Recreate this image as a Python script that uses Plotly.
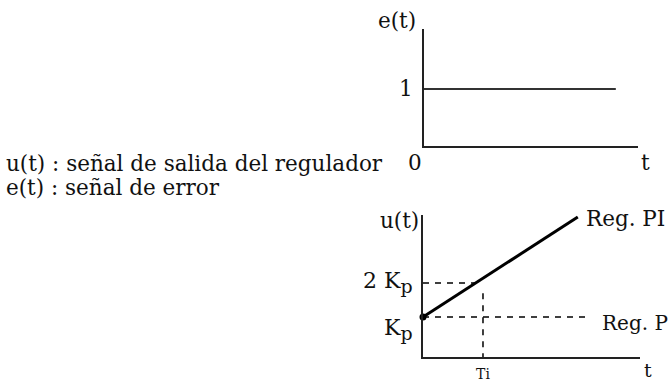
import plotly.graph_objects as go

# Error signal: unit step
e_t = [0, 3.2]
e_val = [1, 1]

# Controller outputs (Kp = 1, Ti = 1)
pi_t = [0, 2.58]
pi_u = [1, 3.94]
p_t = [0, 2.78]
p_u = [1, 1]
Kp = 1
Ti = 1
two_Kp = 2

e_ticks = [1]
e_ticklabels = ["1"]
SUB = "<sub><span style='font-size:19px'>p</span></sub>"
u_levels = [Kp, two_Kp]
u_labels = ["K" + SUB, "2 K" + SUB]
u_label_shift = [-12, 1]
t_ticks = [Ti]
t_ticklabels = ["Ti"]

legend_lines = ["u(t) : señal de salida del regulador", "e(t) : señal de error"]

W, H = 671, 381
FONT = "DejaVu Serif"
INK = "#111111"
FS = 21.5


def px(x):
    return x / W


def py(y):
    return 1 - y / H


fig = go.Figure()

# Top panel: e(t)
fig.add_trace(go.Scatter(x=e_t, y=e_val, mode="lines",
                         line=dict(color="#333333", width=2),
                         xaxis="x", yaxis="y", hoverinfo="skip"))

# Bottom panel: u(t)
DASH = dict(color="#000000", width=1.5, dash="6px,6px")
fig.add_trace(go.Scatter(x=p_t, y=p_u, mode="lines", line=DASH,
                         xaxis="x2", yaxis="y2", hoverinfo="skip"))
slope = (pi_u[1] - pi_u[0]) / (pi_t[1] - pi_t[0])
fig.add_trace(go.Scatter(x=[0, (two_Kp - pi_u[0]) / slope], y=[two_Kp, two_Kp],
                         mode="lines", line=DASH,
                         xaxis="x2", yaxis="y2", hoverinfo="skip"))
fig.add_trace(go.Scatter(x=[Ti, Ti], y=[1.7, -0.18], mode="lines", line=DASH,
                         xaxis="x2", yaxis="y2", hoverinfo="skip"))
fig.add_trace(go.Scatter(x=pi_t, y=pi_u, mode="lines",
                         line=dict(color="#000000", width=3),
                         xaxis="x2", yaxis="y2", hoverinfo="skip"))
fig.add_trace(go.Scatter(x=[0], y=[Kp], mode="markers",
                         marker=dict(color="#000000", size=7),
                         xaxis="x2", yaxis="y2", cliponaxis=False, hoverinfo="skip"))

axis_common = dict(showline=True, linecolor="#222222", linewidth=2,
                   showgrid=False, zeroline=False, ticks="")

fig.update_layout(
    width=W, height=H,
    margin=dict(l=0, r=0, t=0, b=0),
    paper_bgcolor="white", plot_bgcolor="white",
    showlegend=False,
    xaxis=dict(domain=[px(424), px(638)], range=[0, 3.57], anchor="y",
               showticklabels=False, **axis_common),
    yaxis=dict(domain=[py(146), py(29)], range=[0, 2.05], anchor="x",
               tickvals=e_ticks, ticktext=e_ticklabels, ticklabelstandoff=5,
               tickfont=dict(family=FONT, size=FS, color=INK), **axis_common),
    xaxis2=dict(domain=[px(423), px(640)], range=[0, 3.617], anchor="y2",
                tickvals=t_ticks, ticktext=t_ticklabels, ticklabelstandoff=3,
                tickfont=dict(family=FONT, size=14, color=INK), **axis_common),
    yaxis2=dict(domain=[py(357), py(215)], range=[-0.176, 4.0], anchor="x2",
                showticklabels=False, **axis_common),
)

# Level labels on the u(t) axis
for lvl, lab, dy in zip(u_levels, u_labels, u_label_shift):
    fig.add_annotation(xref="x2", yref="y2", x=0, y=lvl, text=lab,
                       xanchor="right", yanchor="middle", xshift=-8, yshift=dy,
                       showarrow=False, font=dict(family=FONT, size=22, color=INK))

annotations = [
    dict(x=px(4), y=py(163), text=legend_lines[0], xanchor="left", size=FS),
    dict(x=px(4), y=py(188), text=legend_lines[1], xanchor="left", size=FS),
    dict(x=px(418), y=py(20), text="e(t)", xanchor="right", size=FS),
    dict(x=px(415), y=py(162), text="0", xanchor="center", size=FS),
    dict(x=px(645), y=py(162), text="t", xanchor="center", size=FS),
    dict(x=px(421), y=py(220), text="u(t)", xanchor="right", size=FS),
    dict(x=px(584), y=py(218), text="Reg. PI", xanchor="left", size=FS),
    dict(x=px(600), y=py(323), text="Reg. P", xanchor="left", size=20),
    dict(x=px(648), y=py(370), text="t", xanchor="center", size=19),
]
for a in annotations:
    size = a.pop("size")
    fig.add_annotation(xref="paper", yref="paper", yanchor="middle",
                       showarrow=False, font=dict(family=FONT, size=size, color=INK), **a)

fig.write_html("out.html")
